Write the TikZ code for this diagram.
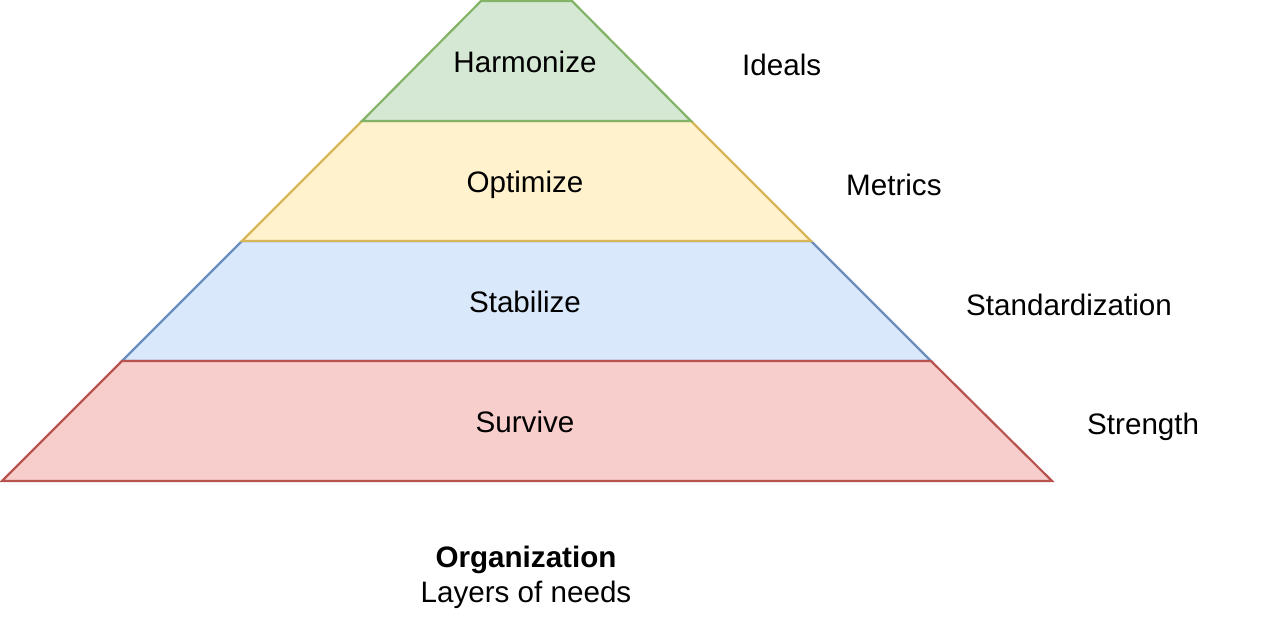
\documentclass[tikz,border=0pt]{standalone}
\usepackage{fontspec}
\setmainfont{Liberation Sans}
\definecolor{gfill}{HTML}{D5E8D4}\definecolor{gline}{HTML}{82B366}
\definecolor{yfill}{HTML}{FFF2CC}\definecolor{yline}{HTML}{D6B656}
\definecolor{bfill}{HTML}{DAE8FC}\definecolor{bline}{HTML}{6C8EBF}
\definecolor{rfill}{HTML}{F8CECC}\definecolor{rline}{HTML}{B85450}
\tikzset{
  layer/.style={line width=2.2pt, line join=miter},
  txt/.style={inner sep=0pt, font=\fontsize{29.6}{34}\selectfont, anchor=base},
  side/.style={txt, anchor=base west},
}
\begin{document}
\begin{tikzpicture}[x=1pt,y=-1pt]
\useasboundingbox (0,0) rectangle (1263,633);
\draw[layer, fill=bfill, draw=bline] (242,241) -- (811,241) -- (931,361) -- (122,361) -- cycle;
\draw[layer, fill=rfill, draw=rline] (122,361) -- (931,361) -- (1052,481) -- (2,481) -- cycle;
\draw[layer, fill=yfill, draw=yline] (362,121) -- (691,121) -- (811,241) -- (242,241) -- cycle;
\draw[layer, fill=gfill, draw=gline] (481,1) -- (572,1) -- (691,121) -- (362,121) -- cycle;
\node[txt] (harm) at (525,72) {Harmonize};
\node[txt] (opt) at (525,192) {Optimize};
\node[txt] (stab) at (525,312) {Stabilize};
\node[txt] (surv) at (525,432) {Survive};
\node[side] (ideals) at (742,75) {Ideals};
\node[side] (metrics) at (846,195) {Metrics};
\node[side] (stand) at (966,315) {Standardization};
\node[side] (strength) at (1087,434) {Strength};
\node[txt, font=\fontsize{29.6}{34}\selectfont\bfseries] (org) at (526,567) {Organization};
\node[txt] (lay) at (526,602) {Layers of needs};
\end{tikzpicture}
\end{document}
